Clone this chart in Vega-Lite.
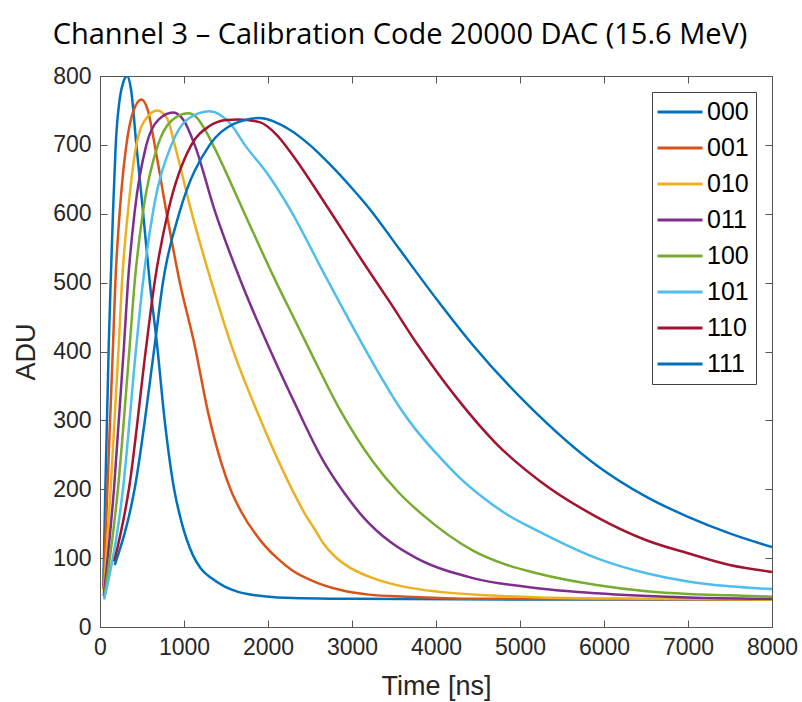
{
  "$schema": "https://vega.github.io/schema/vega-lite/v6.json",
  "autosize": "none",
  "width": 672,
  "height": 551,
  "padding": {"left": 100, "top": 76, "right": 30, "bottom": 75},
  "background": "white",
  "title": {
    "text": "Channel 3 – Calibration Code 20000 DAC (15.6 MeV)",
    "font": "Open Sans",
    "fontSize": 29,
    "fontWeight": "normal",
    "color": "#000000",
    "anchor": "middle",
    "dx": -36,
    "offset": 15
  },
  "config": {
    "view": {"stroke": null},
    "font": "Arial, Liberation Sans, Helvetica, sans-serif",
    "axis": {
      "grid": false,
      "domainColor": "#555555",
      "tickColor": "#555555",
      "labelColor": "#262626",
      "titleColor": "#262626",
      "labelFont": "Arial, Liberation Sans, Helvetica, sans-serif",
      "titleFont": "Arial, Liberation Sans, Helvetica, sans-serif",
      "labelFontSize": 23,
      "titleFontSize": 27,
      "titleFontWeight": "normal",
      "tickSize": -7,
      "labelPadding": 16,
      "format": "d"
    }
  },
  "data": {
    "values": [
      {"c":"000","t":40,"v":60},{"c":"000","t":64,"v":201},{"c":"000","t":104,"v":409},{"c":"000","t":127,"v":501},{"c":"000","t":155,"v":603},{"c":"000","t":187,"v":700},{"c":"000","t":235,"v":767},{"c":"000","t":280,"v":792},{"c":"000","t":321,"v":800},{"c":"000","t":370,"v":780},{"c":"000","t":433,"v":700},{"c":"000","t":512,"v":603},{"c":"000","t":592,"v":501},{"c":"000","t":680,"v":409},{"c":"000","t":770,"v":300},{"c":"000","t":881,"v":201},{"c":"000","t":969,"v":153},{"c":"000","t":1107,"v":104},{"c":"000","t":1200,"v":85},{"c":"000","t":1326,"v":71},{"c":"000","t":1480,"v":59},{"c":"000","t":1643,"v":51},{"c":"000","t":1850,"v":46},{"c":"000","t":2115,"v":43},{"c":"000","t":3000,"v":41},{"c":"000","t":5000,"v":40},{"c":"000","t":8000,"v":40},

      {"c":"001","t":40,"v":55},{"c":"001","t":88,"v":201},{"c":"001","t":155,"v":409},{"c":"001","t":183,"v":501},{"c":"001","t":235,"v":603},{"c":"001","t":314,"v":700},{"c":"001","t":400,"v":750},{"c":"001","t":493,"v":766},{"c":"001","t":570,"v":750},{"c":"001","t":651,"v":700},{"c":"001","t":790,"v":603},{"c":"001","t":949,"v":501},{"c":"001","t":1127,"v":409},{"c":"001","t":1286,"v":312},{"c":"001","t":1445,"v":238},{"c":"001","t":1560,"v":198},{"c":"001","t":1683,"v":167},{"c":"001","t":1921,"v":124},{"c":"001","t":2100,"v":101},{"c":"001","t":2290,"v":82},{"c":"001","t":2550,"v":66},{"c":"001","t":2854,"v":54},{"c":"001","t":3200,"v":47},{"c":"001","t":3647,"v":44},{"c":"001","t":4500,"v":41},{"c":"001","t":8000,"v":40},

      {"c":"010","t":45,"v":50},{"c":"010","t":127,"v":201},{"c":"010","t":223,"v":409},{"c":"010","t":262,"v":501},{"c":"010","t":333,"v":603},{"c":"010","t":433,"v":700},{"c":"010","t":560,"v":740},{"c":"010","t":683,"v":750},{"c":"010","t":800,"v":738},{"c":"010","t":889,"v":700},{"c":"010","t":1088,"v":603},{"c":"010","t":1326,"v":501},{"c":"010","t":1564,"v":409},{"c":"010","t":1921,"v":298},{"c":"010","t":2318,"v":192},{"c":"010","t":2450,"v":162},{"c":"010","t":2550,"v":143},{"c":"010","t":2655,"v":122},{"c":"010","t":2800,"v":102},{"c":"010","t":2950,"v":88},{"c":"010","t":3250,"v":71},{"c":"010","t":3600,"v":59},{"c":"010","t":4044,"v":51},{"c":"010","t":4600,"v":46},{"c":"010","t":5235,"v":43},{"c":"010","t":6500,"v":41},{"c":"010","t":8000,"v":40},

      {"c":"011","t":45,"v":45},{"c":"011","t":167,"v":201},{"c":"011","t":286,"v":409},{"c":"011","t":333,"v":501},{"c":"011","t":413,"v":603},{"c":"011","t":552,"v":700},{"c":"011","t":700,"v":737},{"c":"011","t":871,"v":747},{"c":"011","t":1000,"v":735},{"c":"011","t":1127,"v":700},{"c":"011","t":1370,"v":603},{"c":"011","t":1680,"v":501},{"c":"011","t":2000,"v":409},{"c":"011","t":2318,"v":325},{"c":"011","t":2655,"v":242},{"c":"011","t":2900,"v":196},{"c":"011","t":3131,"v":160},{"c":"011","t":3450,"v":124},{"c":"011","t":3767,"v":100},{"c":"011","t":4440,"v":71},{"c":"011","t":5235,"v":56},{"c":"011","t":5910,"v":49},{"c":"011","t":7000,"v":43},{"c":"011","t":8000,"v":41},

      {"c":"100","t":50,"v":42},{"c":"100","t":214,"v":201},{"c":"100","t":354,"v":409},{"c":"100","t":413,"v":501},{"c":"100","t":512,"v":603},{"c":"100","t":690,"v":700},{"c":"100","t":850,"v":735},{"c":"100","t":1048,"v":746},{"c":"100","t":1150,"v":740},{"c":"100","t":1250,"v":722},{"c":"100","t":1345,"v":700},{"c":"100","t":1711,"v":603},{"c":"100","t":2100,"v":500},{"c":"100","t":2318,"v":446},{"c":"100","t":2496,"v":402},{"c":"100","t":2854,"v":316},{"c":"100","t":3250,"v":240},{"c":"100","t":3550,"v":196},{"c":"100","t":3849,"v":162},{"c":"100","t":4440,"v":111},{"c":"100","t":4800,"v":92},{"c":"100","t":5200,"v":78},{"c":"100","t":5910,"v":61},{"c":"100","t":6505,"v":52},{"c":"100","t":7000,"v":48},{"c":"100","t":7496,"v":46},{"c":"100","t":8000,"v":44},

      {"c":"101","t":50,"v":40},{"c":"101","t":274,"v":201},{"c":"101","t":433,"v":409},{"c":"101","t":512,"v":501},{"c":"101","t":631,"v":603},{"c":"101","t":850,"v":700},{"c":"101","t":1050,"v":738},{"c":"101","t":1306,"v":749},{"c":"101","t":1550,"v":731},{"c":"101","t":1723,"v":700},{"c":"101","t":2000,"v":657},{"c":"101","t":2270,"v":605},{"c":"101","t":2655,"v":516},{"c":"101","t":3131,"v":409},{"c":"101","t":3350,"v":362},{"c":"101","t":3550,"v":322},{"c":"101","t":3750,"v":288},{"c":"101","t":4004,"v":252},{"c":"101","t":4280,"v":217},{"c":"101","t":4560,"v":188},{"c":"101","t":4850,"v":163},{"c":"101","t":5170,"v":142},{"c":"101","t":5910,"v":100},{"c":"101","t":6505,"v":78},{"c":"101","t":7000,"v":66},{"c":"101","t":7496,"v":59},{"c":"101","t":8000,"v":55},

      {"c":"110","t":170,"v":95},{"c":"110","t":345,"v":201},{"c":"110","t":552,"v":409},{"c":"110","t":651,"v":501},{"c":"110","t":810,"v":603},{"c":"110","t":1088,"v":700},{"c":"110","t":1300,"v":727},{"c":"110","t":1500,"v":736},{"c":"110","t":1643,"v":737},{"c":"110","t":1900,"v":733},{"c":"110","t":2100,"v":715},{"c":"110","t":2300,"v":684},{"c":"110","t":2695,"v":612},{"c":"110","t":3131,"v":530},{"c":"110","t":3449,"v":472},{"c":"110","t":3786,"v":409},{"c":"110","t":4243,"v":333},{"c":"110","t":4719,"v":266},{"c":"110","t":5235,"v":212},{"c":"110","t":5910,"v":160},{"c":"110","t":6505,"v":126},{"c":"110","t":7000,"v":107},{"c":"110","t":7496,"v":90},{"c":"110","t":8000,"v":80},

      {"c":"111","t":175,"v":90},{"c":"111","t":413,"v":201},{"c":"111","t":651,"v":409},{"c":"111","t":750,"v":501},{"c":"111","t":949,"v":603},{"c":"111","t":1306,"v":700},{"c":"111","t":1600,"v":731},{"c":"111","t":1901,"v":739},{"c":"111","t":2258,"v":722},{"c":"111","t":2496,"v":700},{"c":"111","t":2735,"v":672},{"c":"111","t":3000,"v":637},{"c":"111","t":3210,"v":607},{"c":"111","t":3568,"v":548},{"c":"111","t":4044,"v":470},{"c":"111","t":4440,"v":409},{"c":"111","t":5115,"v":320},{"c":"111","t":5910,"v":235},{"c":"111","t":6505,"v":189},{"c":"111","t":7000,"v":160},{"c":"111","t":7496,"v":136},{"c":"111","t":8000,"v":116}
    ]
  },
  "layer": [
    {
      "mark": {"type": "line", "strokeWidth": 2.5, "interpolate": "monotone", "clip": true},
      "encoding": {
        "x": {"field": "t", "type": "quantitative", "scale": {"domain": [0, 8000], "nice": false},
              "axis": {"title": "Time [ns]", "values": [0,1000,2000,3000,4000,5000,6000,7000,8000], "titlePadding": 14, "labelFlush": false}},
        "y": {"field": "v", "type": "quantitative", "scale": {"domain": [0, 800], "nice": false},
              "axis": {"title": "ADU", "values": [0,100,200,300,400,500,600,700,800], "titlePadding": 12, "labelFlush": false}},
        "color": {
          "field": "c", "type": "nominal",
          "scale": {"domain": ["000","001","010","011","100","101","110","111"],
                    "range": ["#0072BD","#D95319","#EDB120","#7E2F8E","#77AC30","#4DBEEE","#A2142F","#0072BD"]},
          "legend": {
            "title": null, "orient": "top-right", "offset": 16,
            "symbolType": "M-2,0H2", "symbolSize": 506, "symbolStrokeWidth": 3,
            "labelFontSize": 25, "labelFont": "Arial, Liberation Sans, Helvetica, sans-serif", "labelColor": "#000000",
            "labelOffset": 14, "symbolOffset": 8, "rowPadding": 10, "padding": 7,
            "fillColor": "white", "strokeColor": "#404040"
          }
        },
        "detail": {"field": "c"}
      }
    },
    {
      "mark": {"type": "line", "strokeOpacity": 0},
      "encoding": {
        "x": {"field": "t", "type": "quantitative",
              "axis": {"orient": "top", "title": null, "labels": false, "values": [0,1000,2000,3000,4000,5000,6000,7000,8000]}},
        "y": {"field": "v", "type": "quantitative",
              "axis": {"orient": "right", "title": null, "labels": false, "values": [0,100,200,300,400,500,600,700,800]}},
        "detail": {"field": "c"}
      }
    }
  ],
  "resolve": {"axis": {"x": "independent", "y": "independent"}}
}
